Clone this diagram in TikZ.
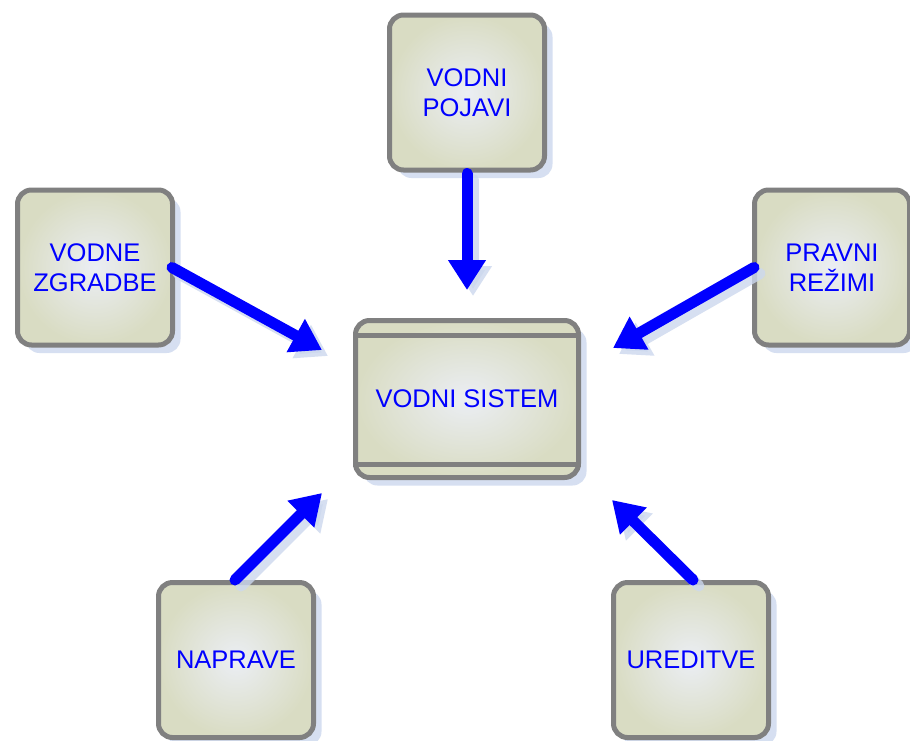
\documentclass[tikz,border=0pt]{standalone}
\usepackage{fontspec}
\setmainfont{Liberation Sans}
\usetikzlibrary{arrows.meta,shadows}
\definecolor{boxline}{HTML}{808080}
\definecolor{boxouter}{HTML}{D9DCC3}
\definecolor{boxinner}{HTML}{EBEEF4}
\definecolor{shadowblue}{HTML}{CCD8EE}
\definecolor{textblue}{HTML}{0000FF}
\tikzset{
  box/.style={draw=boxline, line width=5pt, rounded corners=14pt,
    inner color=boxinner, outer color=boxouter,
    minimum width=155pt, minimum height=155pt, align=center,
    text=textblue, font=\fontsize{25.5}{30}\selectfont,
    drop shadow={shadow xshift=8pt, shadow yshift=-8pt, fill=shadowblue, opacity=0.8}},
  flow/.style={draw=textblue, line width=11pt, line cap=round,
    -{Triangle[width=36pt,length=30pt]}},
  flowshadow/.style={draw=shadowblue, line width=11pt, line cap=round,
    -{Triangle[width=36pt,length=30pt]}, opacity=0.8,
    transform canvas={shift={(6pt,-6pt)}}}
}
\begin{document}
\begin{tikzpicture}[x=1pt,y=-1pt]
\useasboundingbox (0,0) rectangle (910,740);
\fill[white] (0,0) rectangle (910,740);

% outer boxes
\node[box] (pojavi)   at (467,92.5) {VODNI\\POJAVI};
\node[box] (zgradbe)  at (95,267.5) {VODNE\\ZGRADBE};
\node[box] (pravni)   at (832,267.5) {PRAVNI\\REŽIMI};
\node[box] (naprave)  at (236,660) {NAPRAVE};
\node[box] (ureditve) at (691,660) {UREDITVE};

% central system box with header and footer bands
\node[box, minimum width=223pt, minimum height=157pt] (sistem) at (467,399) {VODNI SISTEM};
\draw[boxline, line width=5pt] (sistem.west |- 0,335) -- (sistem.east |- 0,335);
\draw[boxline, line width=5pt] (sistem.west |- 0,464) -- (sistem.east |- 0,464);

% arrow tips pointing at the system
\coordinate (tpo) at (467,290);
\coordinate (tzg) at (322,350);
\coordinate (tpr) at (613,348);
\coordinate (tna) at (322,493);
\coordinate (tur) at (612,500);

% arrow shadows
\draw[flowshadow] ([yshift=-1pt]pojavi.south) -- (tpo);
\draw[flowshadow] ([xshift=-3pt]zgradbe.east) -- (tzg);
\draw[flowshadow] ([xshift=2pt]pravni.west) -- (tpr);
\draw[flowshadow] ([xshift=-1pt]naprave.north) -- (tna);
\draw[flowshadow] ([xshift=2pt]ureditve.north) -- (tur);

% arrows
\draw[flow] ([yshift=-1pt]pojavi.south) -- (tpo);
\draw[flow] ([xshift=-3pt]zgradbe.east) -- (tzg);
\draw[flow] ([xshift=2pt]pravni.west) -- (tpr);
\draw[flow] ([xshift=-1pt]naprave.north) -- (tna);
\draw[flow] ([xshift=2pt]ureditve.north) -- (tur);
\end{tikzpicture}
\end{document}
